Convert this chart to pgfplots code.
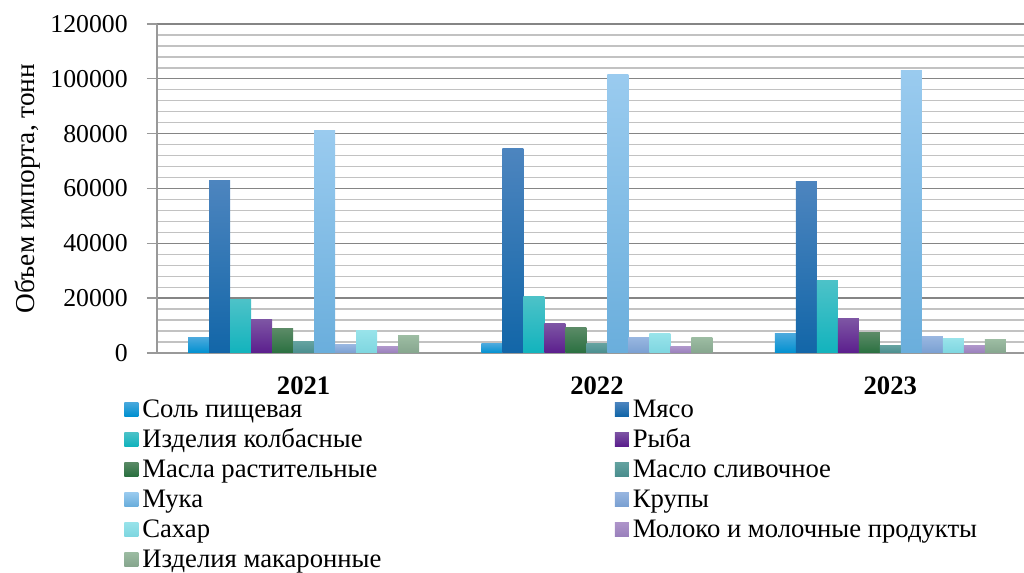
\documentclass[border=0pt]{standalone}
\usepackage{pgfplots}
\pgfplotsset{compat=1.18}
\usepackage{fontspec}
\setmainfont{Liberation Serif}

\definecolor{c1t}{HTML}{4AA9DD}\definecolor{c1b}{HTML}{0090D0}
\definecolor{c2t}{HTML}{4D85BF}\definecolor{c2b}{HTML}{1266A8}
\definecolor{c3t}{HTML}{4CC2C8}\definecolor{c3b}{HTML}{12B3BD}
\definecolor{c4t}{HTML}{7D55A4}\definecolor{c4b}{HTML}{5B1E8D}
\definecolor{c5t}{HTML}{5A8A66}\definecolor{c5b}{HTML}{2A7040}
\definecolor{c6t}{HTML}{64A2A0}\definecolor{c6b}{HTML}{4A8E8E}
\definecolor{c7t}{HTML}{9ACBEF}\definecolor{c7b}{HTML}{6AAEDC}
\definecolor{c8t}{HTML}{98B6E0}\definecolor{c8b}{HTML}{7AA0D2}
\definecolor{c9t}{HTML}{98E3EA}\definecolor{c9b}{HTML}{7ED6E0}
\definecolor{c10t}{HTML}{AE95CA}\definecolor{c10b}{HTML}{9A80BC}
\definecolor{c11t}{HTML}{9CBCA2}\definecolor{c11b}{HTML}{86A68E}

\pgfplotsset{
  mybar/.style={ybar, bar width=0.0716, draw=none,
    legend image code/.code={\path[##1] (0pt,-4pt) rectangle (10.5pt,6.5pt);}},
}

% #1 colour index, #2 shift, #3 #4 #5 values 2021 2022 2023, #6 legend
\newcommand\bars[6]{%
  \addplot[mybar, bar shift=#2, top color=c#1t, bottom color=c#1b] coordinates {(0.5,#3)};
  \addlegendentry{#6}
  \addplot[mybar, bar shift=#2, top color=c#1t, bottom color=c#1b, forget plot] coordinates {(1.5,#4)};
  \addplot[mybar, bar shift=#2, top color=c#1t, bottom color=c#1b, forget plot] coordinates {(2.5,#5)};
}

\begin{document}
\begin{tikzpicture}
\useasboundingbox (-117.75pt,-165pt) rectangle (650.25pt,264.75pt);
\begin{axis}[
  at={(0,0)}, anchor=south west,
  scale only axis, width=650.25pt, height=246.75pt,
  xmin=0, xmax=2.956, ymin=0, ymax=120000,
  axis x line*=bottom, axis y line*=left,
  axis line style={-, draw=black!40, line width=1.2pt},
  xtick={0.5,1.5,2.5},
  xticklabels={\textbf{2021},\textbf{2022},\textbf{2023}},
  x tick style={draw=none},
  ytick={0,20000,40000,60000,80000,100000,120000},
  minor ytick={4000,8000,12000,16000,24000,28000,32000,36000,44000,48000,52000,56000,64000,68000,72000,76000,84000,88000,92000,96000,104000,108000,112000,116000},
  ymajorgrids, yminorgrids,
  major grid style={draw=black!48, line width=1pt},
  minor grid style={draw=black!24, line width=1pt},
  tick align=outside, major tick length=7.5pt, minor tick length=0pt,
  y tick style={draw=black!40, line width=1pt},
  scaled y ticks=false,
  yticklabel={\pgfmathprintnumber[fixed, precision=0, 1000 sep={}, assume math mode=true]{\tick}},
  yticklabel style={font=\fontsize{19.3}{23}\selectfont, xshift=-11pt},
  xticklabel style={font=\fontsize{20}{24}\selectfont, inner ysep=0pt, yshift=-10.2pt},
  ylabel={Объем импорта, тонн},
  ylabel style={font=\fontsize{20.5}{24}\selectfont, at={(axis description cs:-0.149,0.5)}, anchor=center},
  legend columns=2,
  legend cell align=left,
  legend style={draw=none, fill=none, inner sep=0pt,
    at={(axis description cs:-0.038,-0.137)}, anchor=north west,
    font=\fontsize{20}{24}\selectfont,
    nodes={inner xsep=3pt, inner ysep=0pt, text height=14pt, text depth=4.5pt},
    row sep=4pt,
    /tikz/every even column/.append style={column sep=172pt}},
]
\bars{1}{-0.358}{5600}{3400}{7000}{Соль пищевая}
\bars{2}{-0.2864}{63000}{74700}{62700}{Мясо}
\bars{3}{-0.2148}{19400}{20500}{26300}{Изделия колбасные}
\bars{4}{-0.1432}{12100}{10700}{12500}{Рыба}
\bars{5}{-0.0716}{8800}{9200}{7400}{Масла растительные}
\bars{6}{0}{4100}{3400}{2700}{Масло сливочное}
\bars{7}{0.0716}{81200}{101600}{103000}{Мука}
\bars{8}{0.1432}{3000}{5600}{5900}{Крупы}
\bars{9}{0.2148}{8100}{7000}{5200}{Сахар}
\bars{10}{0.2864}{2300}{2300}{2700}{Молоко и молочные продукты}
\bars{11}{0.358}{6300}{5600}{4800}{Изделия макаронные}
\end{axis}
\end{tikzpicture}
\end{document}
